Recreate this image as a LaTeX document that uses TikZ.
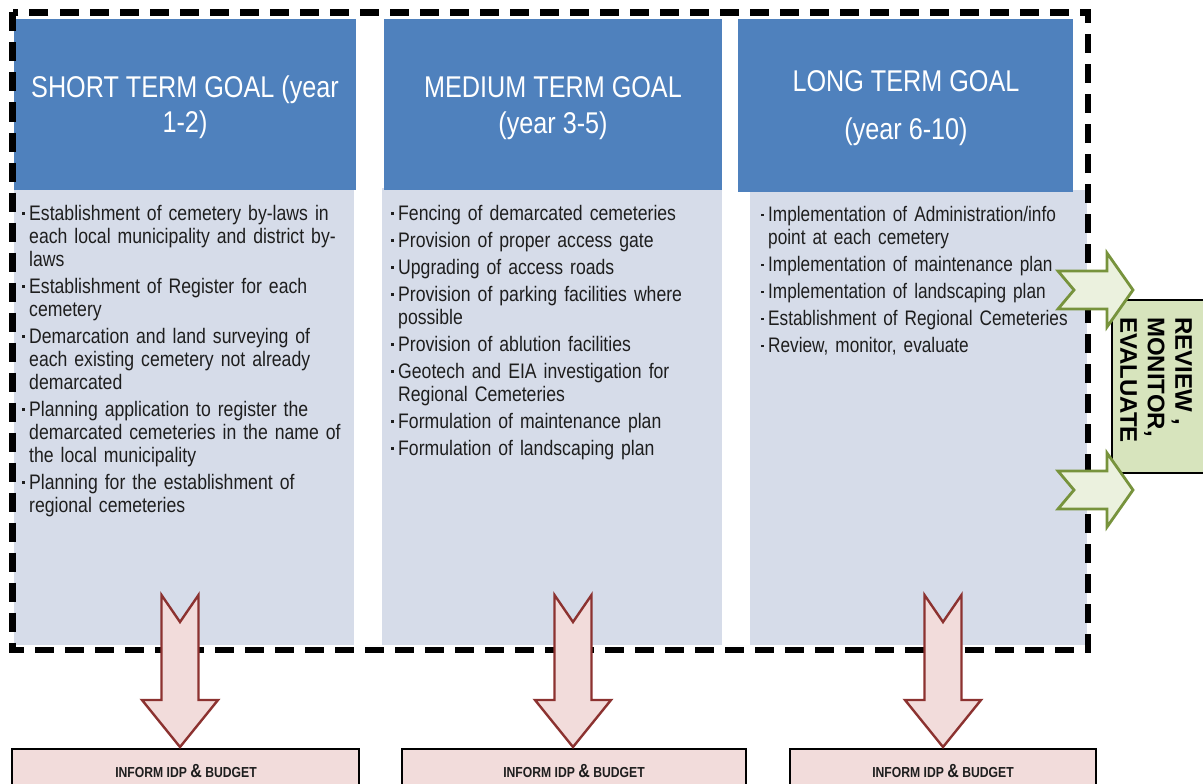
\documentclass[tikz,border=0pt]{standalone}
\usepackage{fontspec}
\setmainfont[FakeStretch=0.84]{Liberation Sans}
\newfontfamily\boxfont{Liberation Sans}
\newfontfamily\narrowfont[FakeStretch=0.82]{Liberation Sans}
\definecolor{hdrblue}{RGB}{79,129,189}
\definecolor{bodyblue}{RGB}{214,220,233}
\definecolor{arrred}{RGB}{140,50,48}
\definecolor{pinkfill}{RGB}{242,220,219}
\definecolor{grnfill}{RGB}{215,228,189}
\definecolor{grnarrfill}{RGB}{235,241,222}
\definecolor{grnline}{RGB}{119,147,60}
\definecolor{bodyink}{RGB}{30,30,30}
\newcommand\itm{\par\noindent\hangindent=7pt\hangafter=1\makebox[7pt][l]{\rule[5.5pt]{2.6pt}{2.6pt}}}
\newcommand\myRedArrow[1]{\draw[redarr] (#1-18.5,595) -- (#1,622) -- (#1+18.5,595) -- (#1+18.5,700) -- (#1+38,700) -- (#1,747) -- (#1-38,700) -- (#1-18.5,700) -- cycle;}
\newcommand\myGreenArrow[1]{\draw[grnarr] (1058,#1-19) -- (1107,#1-19) -- (1107,#1-37) -- (1133,#1) -- (1107,#1+37) -- (1107,#1+19) -- (1058,#1+19) -- (1074,#1) -- cycle;}
\tikzset{
  hdrbox/.style={fill=hdrblue},
  bodybox/.style={fill=bodyblue},
  hdrtext/.style={text=white, align=center, inner sep=0pt, anchor=north},
  bodytext/.style={text=bodyink, inner sep=0pt, anchor=north west, text width=420pt,
    font={\fontsize{21}{23}\selectfont},
    execute at begin node={\setlength\parskip{4pt}\setlength\parindent{0pt}}},
  dashframe/.style={draw=black, line width=6.5pt, dash pattern=on 19pt off 11pt},
  redarr/.style={draw=arrred, fill=pinkfill, line width=2.4pt, line join=miter},
  grnarr/.style={draw=grnline, fill=grnarrfill, line width=2.8pt, line join=miter},
  pinkbox/.style={draw=black, fill=pinkfill, line width=1.2pt},
  grnbox/.style={draw=black, fill=grnfill, line width=1.2pt},
  btmtext/.style={text=bodyink, inner sep=0pt, anchor=base, font={\fontsize{14.5}{16}\selectfont\bfseries}},
  rmetext/.style={text=black, inner sep=0pt, anchor=north west, rotate=-90, align=left,
    font={\boxfont\fontsize{24}{27.5}\selectfont\bfseries}}
}
\begin{document}
\begin{tikzpicture}[x=1pt,y=-1pt]
\useasboundingbox (0,0) rectangle (1203,784);
\fill[white] (0,0) rectangle (1203,784);
% body boxes
\path[bodybox] (14,188) rectangle (354,645);
\path[bodybox] (382,188) rectangle (722,645);
\path[bodybox] (750,190) rectangle (1087,645);
% header boxes
\path[hdrbox] (14,19) rectangle (356,190);
\path[hdrbox] (384,19) rectangle (722,190);
\path[hdrbox] (738,19) rectangle (1073,192);
% header texts
\node[hdrtext, font={\fontsize{30}{35}\selectfont}] (h1) at (185,76) {SHORT TERM GOAL (year\\1-2)};
\node[hdrtext, font={\fontsize{30}{36}\selectfont}] (h2) at (553,76.5) {MEDIUM TERM GOAL\\(year 3-5)};
\node[hdrtext, font={\fontsize{30}{48}\selectfont}] (h3) at (906,70.5) {LONG TERM GOAL\\(year 6-10)};
% body texts
\node[bodytext] (b1) at (22,193) {%
\itm Establishment of cemetery by-laws in\newline each local municipality and district by-\newline laws
\itm Establishment of Register for each\newline cemetery
\itm Demarcation and land surveying of\newline each existing cemetery not already\newline demarcated
\itm Planning application to register the\newline demarcated cemeteries in the name of\newline the local municipality
\itm Planning for the establishment of\newline regional cemeteries\par};
\node[bodytext] (b2) at (391,193) {%
\itm Fencing of demarcated cemeteries
\itm Provision of proper access gate
\itm Upgrading of access roads
\itm Provision of parking facilities where\newline possible
\itm Provision of ablution facilities
\itm Geotech and EIA investigation for\newline Regional Cemeteries
\itm Formulation of maintenance plan
\itm Formulation of landscaping plan\par};
\node[bodytext, font={\narrowfont\fontsize{21}{23}\selectfont}] (b3) at (761,194.5) {%
\itm Implementation of Administration/info\newline point at each cemetery
\itm Implementation of maintenance plan
\itm Implementation of landscaping plan
\itm Establishment of Regional Cemeteries
\itm Review, monitor, evaluate\par};
% dashed frame
\draw[dashframe] (12.5,12.5) rectangle (1088,650);
% review box
\path[grnbox] (1112,300) rectangle (1215,473);
\node[rmetext] (rme) at (1192,317) {REVIEW ,\\MONITOR,\\EVALUATE};
\myGreenArrow{290}
\myGreenArrow{490}
% bottom boxes
\path[pinkbox] (12,749) rectangle (359,800);
\path[pinkbox] (402,749) rectangle (746,800);
\path[pinkbox] (790,749) rectangle (1096,800);
\node[btmtext] (i1) at (186,777) {INFORM IDP {\fontsize{19}{19}\selectfont\&} BUDGET};
\node[btmtext] (i2) at (574,777) {INFORM IDP {\fontsize{19}{19}\selectfont\&} BUDGET};
\node[btmtext] (i3) at (943,777) {INFORM IDP {\fontsize{19}{19}\selectfont\&} BUDGET};
% red arrows
\myRedArrow{180}
\myRedArrow{573}
\myRedArrow{943}
\end{tikzpicture}
\end{document}
